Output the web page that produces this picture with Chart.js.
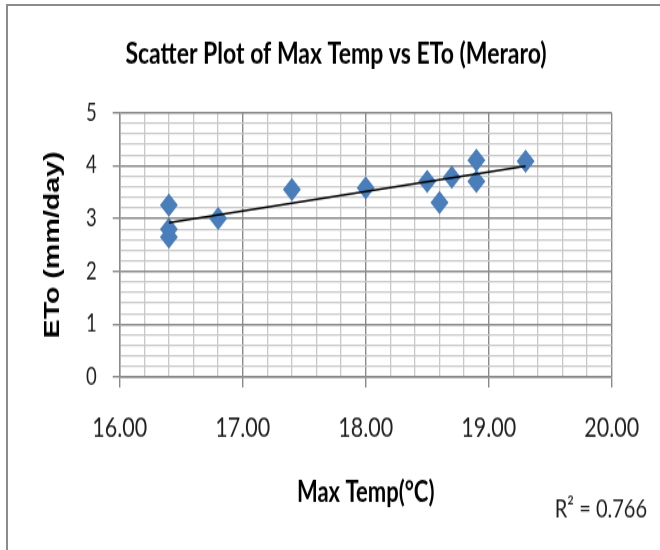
<!DOCTYPE html>
<html><head><meta charset="utf-8">
<script src="https://cdn.jsdelivr.net/npm/chart.js@4"></script>
<style>
html,body{margin:0;padding:0;background:#fff;overflow:hidden;width:660px;height:550px;}
#frame{position:absolute;left:6px;top:4px;width:700px;height:600px;border-left:2px solid #8c8c8c;border-top:2px solid #8c8c8c;}
#wrap{position:absolute;left:0;top:0;width:660px;height:423px;transform:scaleY(1.30024);transform-origin:0 0;}
</style></head><body>
<div id="frame"></div>
<div id="wrap"><canvas id="c" width="660" height="423"></canvas></div>
<script>
const chartTitle = 'Scatter Plot of Max Temp vs ETo (Meraro)';
const xAxisTitle = 'Max Temp(°C)';
const yAxisTitle = 'ETo (mm/day)';
const rSquaredLabel = 'R² = 0.766';
const maxTemp = [16.4, 16.4, 16.4, 16.8, 17.4, 18.0, 18.5, 18.6, 18.7, 18.9, 18.9, 19.3];
const eto     = [3.25, 2.8, 2.65, 3.0, 3.55, 3.58, 3.7, 3.3, 3.78, 4.1, 3.7, 4.08];
const xTickLabels = ['16.00', '17.00', '18.00', '19.00', '20.00'];
const yTickLabels = ['0', '1', '2', '3', '4', '5'];

// linear least-squares trendline through the data
const n = maxTemp.length;
const mx = maxTemp.reduce((a, b) => a + b, 0) / n;
const my = eto.reduce((a, b) => a + b, 0) / n;
let sxy = 0, sxx = 0;
for (let i = 0; i < n; i++) { sxy += (maxTemp[i] - mx) * (eto[i] - my); sxx += (maxTemp[i] - mx) ** 2; }
const slope = sxy / sxx, intercept = my - slope * mx;
const xMinData = Math.min(...maxTemp), xMaxData = Math.max(...maxTemp);
const trendPoints = [xMinData, xMaxData].map(x => ({ x, y: intercept + slope * x }));

const MAJOR = '#8a8a8a', MINOR = '#c8c8c8';
const isMajor = v => Math.abs(v - Math.round(v)) < 1e-6;
const labelFor = (list, v) => list.find(l => Math.abs(parseFloat(l) - v) < 1e-6) || '';

const rSquaredPlugin = {
  id: 'rsq',
  afterDraw(chart) {
    const ctx = chart.ctx;
    ctx.save();
    ctx.font = '20px Lato';
    ctx.fillStyle = '#1f1f1f';
    ctx.textAlign = 'right';
    ctx.textBaseline = 'middle';
    ctx.fillText(rSquaredLabel, chart.width - 13, chart.chartArea.bottom + 101.5);
    ctx.restore();
  }
};

Chart.defaults.font.family = 'Lato';
Chart.defaults.color = '#1f1f1f';

new Chart(document.getElementById('c'), {
  type: 'scatter',
  data: {
    datasets: [
      {
        type: 'line', label: 'Trend', data: trendPoints, order: 0,
        borderColor: '#000', borderWidth: 1.6, pointRadius: 0, fill: false, tension: 0
      },
      {
        type: 'scatter', label: 'ETo', order: 1,
        data: maxTemp.map((x, i) => ({ x, y: eto[i] })),
        pointStyle: 'rectRot', pointRadius: 9, pointHoverRadius: 9,
        backgroundColor: '#4a7ebb', borderColor: '#4a7ebb', borderWidth: 0
      }
    ]
  },
  options: {
    responsive: false, animation: false, devicePixelRatio: 1,
    layout: { padding: { left: 12, right: 0, top: 0, bottom: 0 } },
    plugins: {
      legend: { display: false },
      tooltip: { enabled: false },
      title: {
        display: true, text: chartTitle, color: '#000',
        font: { family: 'Lato', size: 23, weight: 'bold', lineHeight: 1.2 },
        padding: { top: 27.4, bottom: 31.7 }
      }
    },
    scales: {
      x: {
        type: 'linear', min: 16, max: 20,
        afterFit: s => { s.height = 133; },
        ticks: {
          stepSize: 0.2, autoSkip: false, maxRotation: 0, minRotation: 0,
          padding: 18, font: { size: 21.5 },
          callback: v => labelFor(xTickLabels, v)
        },
        grid: {
          color: c => isMajor(c.tick.value) ? MAJOR : MINOR,
          lineWidth: c => isMajor(c.tick.value) ? 1.4 : 1.3,
          tickColor: c => isMajor(c.tick.value) ? MAJOR : 'rgba(0,0,0,0)',
          tickLength: 8, drawTicks: true
        },
        border: { color: MAJOR, width: 1.4 },
        title: {
          display: true, text: xAxisTitle, color: '#000',
          font: { family: 'Lato', size: 22, weight: 'bold', lineHeight: 1.2 },
          padding: { top: 0, bottom: 30.6 }
        }
      },
      y: {
        type: 'linear', min: 0, max: 5,
        afterFit: s => { s.width = 107.7; },
        ticks: {
          stepSize: 0.2, autoSkip: false, padding: 16, font: { size: 18.5 },
          callback: v => labelFor(yTickLabels, v)
        },
        grid: {
          color: c => isMajor(c.tick.value) ? MAJOR : MINOR,
          lineWidth: c => isMajor(c.tick.value) ? 1.4 : 1.3,
          tickColor: c => isMajor(c.tick.value) ? MAJOR : 'rgba(0,0,0,0)',
          tickLength: 7, drawTicks: true
        },
        border: { color: MAJOR, width: 1.4 },
        title: {
          display: true, text: yAxisTitle, color: '#000',
          font: { family: '"Liberation Sans", Arial, sans-serif', size: 22, weight: 'bold', lineHeight: 1.2 },
          padding: { top: 27.8, bottom: 0 }
        }
      },
      yRight: {
        type: 'linear', position: 'right', display: true,
        afterFit: s => { s.width = 48.3; },
        ticks: { display: false }, grid: { display: false }, border: { display: false },
        title: { display: false }
      }
    }
  },
  plugins: [rSquaredPlugin]
});
</script>
</body></html>
